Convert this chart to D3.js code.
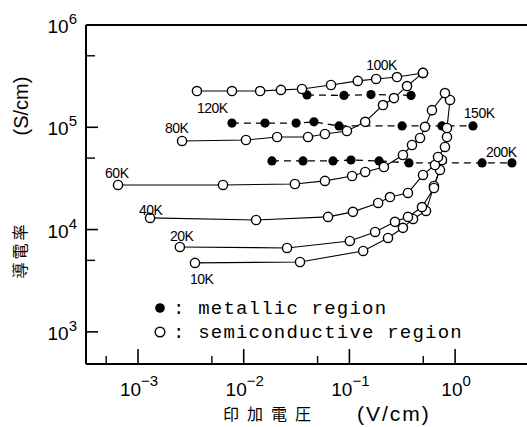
<!DOCTYPE html>
<html><head><meta charset="utf-8">
<script src="https://cdn.jsdelivr.net/npm/d3@7"></script>
<style>body{margin:0;background:#fff}svg{display:block}</style>
</head><body>
<svg id="c" width="527" height="427"></svg>
<script>
// ---- data ----
const xMajorTicks = [1e-3, 1e-2, 1e-1, 1];
const xTickExp = ["-3", "-2", "-1", "0"];
const xMinorTicks = [5e-4, 5e-3, 5e-2, 5e-1];
const yMajorTicks = [1e3, 1e4, 1e5, 1e6];
const yTickExp = ["3", "4", "5", "6"];
const yMinorTicks = [5e3, 5e4, 5e5];

// semiconductive (open circles)
const semi10K_x = [3.46e-3, 3.41e-2, 0.135, 0.232, 0.321, 0.400, 0.531, 0.631, 0.719];
const semi10K_y = [4.72e3, 4.82e3, 6.18e3, 8.28e3, 1.04e4, 1.27e4, 1.52e4, 2.67e4, 3.83e4];
const semi20K_x = [2.49e-3, 2.57e-2, 0.101, 0.175, 0.270, 0.358, 0.486, 0.631, 0.751];
const semi20K_y = [6.76e3, 6.61e3, 7.74e3, 9.48e3, 1.19e4, 1.33e4, 1.66e4, 2.55e4, 4.79e4];
const semi40K_x = [1.30e-3, 1.31e-2, 6.28e-2, 0.108, 0.187, 0.242, 0.358, 0.497, 0.645, 0.689, 0.802, 0.838, 0.838, 0.895];
const semi40K_y = [1.30e4, 1.24e4, 1.33e4, 1.49e4, 1.82e4, 2.08e4, 2.28e4, 3.42e4, 4.28e4, 5.12e4, 6.42e4, 8.04e4, 9.84e4, 1.85e5];
const semi60K_x = [6.47e-4, 6.37e-3, 3.05e-2, 5.87e-2, 0.106, 0.141, 0.212, 0.321, 0.391, 0.466, 0.519, 0.604, 0.802];
const semi60K_y = [2.73e4, 2.73e4, 2.79e4, 2.99e4, 3.34e4, 3.66e4, 4.09e4, 5.36e4, 6.71e4, 7.86e4, 1.01e5, 1.47e5, 2.16e5];
const semi80K_x = [2.61e-3, 1.05e-2, 2.07e-2, 4.06e-2, 5.87e-2, 9.48e-2, 0.141, 0.208, 0.264, 0.351, 0.497];
const semi80K_y = [7.35e4, 7.51e4, 8.04e4, 8.04e4, 8.60e4, 9.20e4, 1.13e5, 1.65e5, 1.93e5, 2.53e5, 3.40e5];
const semi100K_x = [3.61e-3, 7.74e-3, 1.43e-2, 2.25e-2, 3.56e-2, 6.70e-2, 0.120, 0.179, 0.282, 0.497];
const semi100K_y = [2.26e5, 2.26e5, 2.26e5, 2.32e5, 2.37e5, 2.59e5, 2.84e5, 2.97e5, 3.10e5, 3.40e5];

// metallic (filled circles)
const met120K_x = [3.97e-2, 8.89e-2, 0.160, 0.383];
const met120K_y = [2.07e5, 2.05e5, 2.09e5, 2.05e5];
const met150K_x = [7.74e-3, 1.59e-2, 3.13e-2, 4.62e-2, 7.98e-2, 0.315, 0.751, 1.476];
const met150K_y = [1.10e5, 1.10e5, 1.10e5, 1.13e5, 1.03e5, 1.03e5, 1.03e5, 1.03e5];
const met200K_x = [1.85e-2, 3.64e-2, 7.00e-2, 0.1035, 0.191, 0.366, 1.80, 3.45];
const met200K_y = [4.69e4, 4.69e4, 4.69e4, 4.79e4, 4.69e4, 4.48e4, 4.48e4, 4.48e4];

// temperature labels (text start x, baseline y in data units)
const tempLabels = ["100K", "120K", "80K", "60K", "40K", "20K", "10K", "150K", "200K"];
const tempLabel_x = [0.144, 3.61e-3, 1.80e-3, 4.88e-4, 1.02e-3, 2.01e-3, 3.10e-3, 1.21, 1.96];
const tempLabel_y = [3.63e5, 1.38e5, 8.80e4, 3.19e4, 1.39e4, 7.74e3, 2.94e3, 1.23e5, 5.12e4];

// ---- drawing ----
const svg = d3.select("#c");
const L = 86, R = 527, T = 25, B = 364;
const x = d3.scaleLog().domain([3.22e-4, 4.79]).range([L, R]);
const y = d3.scaleLog().domain([485, 1e6]).range([B, T]);
const sansFont = "'Liberation Sans', Arial, sans-serif";

const zip = (xs, ys) => xs.map((v, i) => [v, ys[i]]);
const semi = [zip(semi10K_x, semi10K_y), zip(semi20K_x, semi20K_y), zip(semi40K_x, semi40K_y),
              zip(semi60K_x, semi60K_y), zip(semi80K_x, semi80K_y), zip(semi100K_x, semi100K_y)];
const met = [zip(met120K_x, met120K_y), zip(met150K_x, met150K_y), zip(met200K_x, met200K_y)];

const line = d3.line().x(d => x(d[0])).y(d => y(d[1]));

// frame / axes
const g = svg.append("g");
g.append("line").attr("x1", L).attr("x2", R).attr("y1", T).attr("y2", T).attr("stroke", "#000").attr("stroke-width", 2);
g.append("line").attr("x1", L).attr("x2", R).attr("y1", B).attr("y2", B).attr("stroke", "#000").attr("stroke-width", 2);
g.append("line").attr("x1", L).attr("x2", L).attr("y1", T).attr("y2", B).attr("stroke", "#000").attr("stroke-width", 2);

xMajorTicks.forEach(v => g.append("line").attr("x1", x(v)).attr("x2", x(v)).attr("y1", B).attr("y2", B - 15).attr("stroke", "#000").attr("stroke-width", 1.6));
xMinorTicks.forEach(v => g.append("line").attr("x1", x(v)).attr("x2", x(v)).attr("y1", B).attr("y2", B - 8).attr("stroke", "#000").attr("stroke-width", 1.4));
yMajorTicks.forEach(v => g.append("line").attr("x1", L).attr("x2", L + 12).attr("y1", y(v)).attr("y2", y(v)).attr("stroke", "#000").attr("stroke-width", 1.6));
yMinorTicks.forEach(v => g.append("line").attr("x1", L).attr("x2", L + 9).attr("y1", y(v)).attr("y2", y(v)).attr("stroke", "#000").attr("stroke-width", 1.4));

// tick labels
xMajorTicks.forEach((v, i) => {
  const t = g.append("text").attr("x", x(v) + 1).attr("y", B + 32).attr("text-anchor", "middle")
    .attr("font-family", sansFont).attr("fill", "#000");
  t.append("tspan").attr("font-size", 19).text("10");
  t.append("tspan").attr("font-size", 15).attr("dy", -10).text(xTickExp[i].replace("-", "\u2212"));
});
yMajorTicks.forEach((v, i) => {
  const t = g.append("text").attr("x", L - 9).attr("y", y(v) + 8).attr("text-anchor", "end")
    .attr("font-family", sansFont).attr("fill", "#000");
  t.append("tspan").attr("font-size", 19).text("10");
  t.append("tspan").attr("font-size", 15).attr("dy", -9).text(yTickExp[i]);
});

// axis titles
svg.append("text").attr("transform", "translate(28,106) rotate(-90)").attr("text-anchor", "middle")
  .attr("font-family", sansFont).attr("font-size", 20).text("(S/cm)");
svg.append("text").attr("transform", "translate(26,250) rotate(-90)").attr("text-anchor", "middle")
  .attr("font-family", "'Noto Sans CJK JP', sans-serif").attr("font-size", 16).attr("letter-spacing", 3).attr("fill", "#000").text("導電率");
svg.append("text").attr("x", 223).attr("y", 420)
  .attr("font-family", "'Noto Sans CJK JP', sans-serif").attr("font-size", 16).attr("letter-spacing", 8).attr("fill", "#000").text("印加電圧");
svg.append("text").attr("x", 357).attr("y", 421)
  .attr("font-family", sansFont).attr("font-size", 21).attr("letter-spacing", 2).text("(V/cm)");

// series lines
const pg = svg.append("g");
semi.forEach(s => pg.append("path").attr("d", line(s)).attr("fill", "none").attr("stroke", "#000").attr("stroke-width", 1.1));
met.forEach(s => pg.append("path").attr("d", line(s)).attr("fill", "none").attr("stroke", "#000").attr("stroke-width", 1.3).attr("stroke-dasharray", "7,5"));

// markers
met.forEach(s => pg.selectAll(null).data(s).enter().append("circle")
  .attr("cx", d => x(d[0])).attr("cy", d => y(d[1])).attr("r", 4.6).attr("fill", "#000"));
semi.forEach(s => pg.selectAll(null).data(s).enter().append("circle")
  .attr("cx", d => x(d[0])).attr("cy", d => y(d[1])).attr("r", 4.6).attr("fill", "#fff").attr("stroke", "#000").attr("stroke-width", 1.4));

// temperature labels
tempLabels.forEach((t, i) => svg.append("text").attr("x", x(tempLabel_x[i])).attr("y", y(tempLabel_y[i]))
  .attr("font-family", sansFont).attr("font-size", 14).attr("letter-spacing", -0.5).text(t));

// legend
const mono = "'Liberation Mono', 'Courier New', monospace";
svg.append("circle").attr("cx", 160).attr("cy", 308).attr("r", 4.8).attr("fill", "#000");
svg.append("circle").attr("cx", 160).attr("cy", 332).attr("r", 4.8).attr("fill", "#fff").attr("stroke", "#000").attr("stroke-width", 1.4);
svg.append("text").attr("x", 173).attr("y", 314).attr("font-family", mono).attr("font-size", 19).attr("letter-spacing", 1.2).attr("xml:space", "preserve").text(": metallic region");
svg.append("text").attr("x", 173).attr("y", 338).attr("font-family", mono).attr("font-size", 19).attr("letter-spacing", 1.2).attr("xml:space", "preserve").text(": semiconductive region");
</script>
</body></html>
